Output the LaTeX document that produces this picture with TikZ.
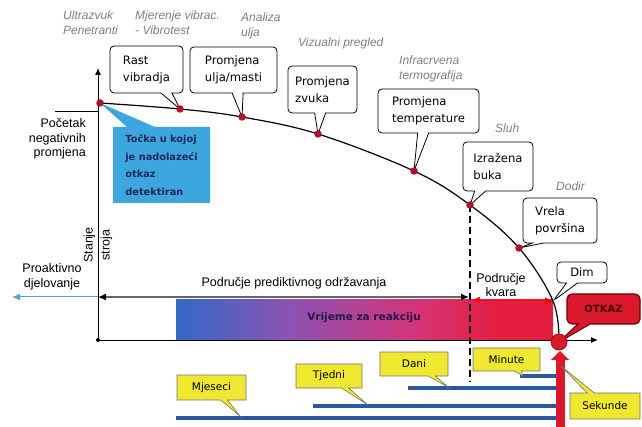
\documentclass[tikz,border=0pt]{standalone}
\usepackage{fontspec}
\setmainfont{Liberation Sans}
\newfontfamily\callfont{DejaVu Sans}
\usetikzlibrary{shapes.callouts,arrows.meta}
\definecolor{dotred}{RGB}{176,16,48}
\definecolor{boxblue}{RGB}{62,166,222}
\definecolor{boxtext}{RGB}{28,40,92}
\definecolor{barblue}{RGB}{52,104,196}
\definecolor{barpurple}{RGB}{140,82,180}
\definecolor{barpink}{RGB}{212,52,120}
\definecolor{barred}{RGB}{228,30,62}
\definecolor{linkblue}{RGB}{90,160,215}
\definecolor{notered}{RGB}{218,26,44}
\definecolor{noteyellow}{RGB}{240,232,48}
\definecolor{timeblue}{RGB}{44,88,158}
\definecolor{reacttext}{RGB}{40,24,70}
\pgfdeclarehorizontalshading{reaction}{100bp}{color(0bp)=(barblue); color(25bp)=(barblue); color(40bp)=(barpurple); color(57bp)=(barpink); color(68bp)=(barred); color(75bp)=(barred); color(100bp)=(barred)}
\begin{document}
\begin{tikzpicture}[x=1pt, y=-1pt,
  remark/.style={rectangle callout, draw, fill=white, rounded corners=4pt, line width=0.8pt, align=left, inner sep=0pt, callout pointer width=11pt, font=\callfont\fontsize{11.6}{17}\selectfont},
  tagbox/.style={rectangle callout, draw=black!55, fill=noteyellow, line width=0.6pt, inner sep=0pt, callout pointer width=7pt, font=\callfont\fontsize{10.5}{12}\selectfont},
  method/.style={align=left, anchor=west, inner sep=0pt, text=black!50, font=\itshape\fontsize{12}{15}\selectfont},
  plain/.style={inner sep=0pt, font=\fontsize{12.5}{14.5}\selectfont},
  dot/.style={circle, fill=dotred, inner sep=0pt, minimum size=7.5pt},
  timebar/.style={timeblue, line width=3.5pt}]
\useasboundingbox (0,0) rectangle (642,427);
\fill[white] (0,0) rectangle (642,427);

\coordinate (O) at (98,340);
\coordinate (ytip) at (98,68);
\coordinate (xtip) at (598,340);
\coordinate (s0) at (55,112);
\coordinate (s1) at (98,112);
\coordinate (p1) at (98,297);
\coordinate (p2) at (469,297);
\coordinate (pa) at (12,297);
\coordinate (k1) at (472,300);
\coordinate (dashend) at (470,382);
\coordinate (rbase) at (560,432);
\coordinate (rtip) at (560,351);
\coordinate (d0) at (100,103);
\coordinate (d1) at (180,109);
\coordinate (d2) at (242,117);
\coordinate (d3) at (318,134);
\coordinate (d4) at (414,171);
\coordinate (d5) at (470,205);
\coordinate (d6) at (519,248);
\coordinate (d7) at (553,301);
\coordinate (fail) at (559,342);

\shade[shading=reaction] (176,300) rectangle (553,340);
\node[font=\callfont\bfseries\fontsize{10.5}{12}\selectfont, text=reacttext] (react) at (364,318) {Vrijeme za reakciju};

\draw[timebar] (520,376) -- (558,376);
\draw[timebar] (408,388) -- (558,388);
\draw[timebar] (313,406) -- (558,406);
\draw[timebar] (176,418) -- (558,418);

\draw[line width=1pt] (s0) -- (s1);
\draw[line width=1pt, -{Latex[length=7pt, width=6pt]}] (O) -- (ytip);
\draw[line width=1pt, -{Latex[length=7pt, width=6pt]}] (O) -- (xtip);
\fill (O) circle (2);
\draw[linkblue, line width=1pt, -{Latex[length=8pt, width=7pt]}] (p1) -- (pa);
\draw[black!60, line width=1.2pt, {Latex[black, length=8pt, width=7pt]}-{Latex[black, length=8pt, width=7pt]}] (p1) -- (p2);
\draw[red, line width=0.7pt, {Latex[length=8pt, width=7pt]}-{Latex[length=8pt, width=7pt]}] (k1) -- (d7);
\draw[line width=2.2pt, dash pattern=on 7pt off 4pt] (d5) -- (dashend);
\draw[line width=1.2pt] plot[smooth, tension=0.6] coordinates {(d0) (d1) (d2) (d3) (d4) (d5) (d6) (d7) (fail)};

\node[rectangle callout, fill=boxblue, minimum width=97pt, minimum height=76pt, inner sep=0pt, callout absolute pointer={(d0)}, callout pointer width=28pt, align=left, text=boxtext, font=\callfont\bfseries\fontsize{9.8}{17.5}\selectfont] (detect) at (161.5,165) {Točka u kojoj\\je nadolazeći\\otkaz\\detektiran};

\node[remark, minimum width=73pt, minimum height=47pt, callout absolute pointer={(d1)}] (rast) at (146.5,69.5) {Rast\\vibradja};
\node[remark, minimum width=87pt, minimum height=46pt, callout absolute pointer={(d2)}] (ulje) at (233.5,70) {Promjena\\ulja/masti};
\node[remark, minimum width=69pt, minimum height=47pt, callout absolute pointer={(d3)}] (zvuk) at (322.5,89.5) {Promjena\\zvuka};
\node[remark, minimum width=101pt, minimum height=44pt, callout absolute pointer={(d4)}] (temp) at (428.5,111) {Promjena\\temperature};
\node[remark, minimum width=70pt, minimum height=49pt, callout absolute pointer={(d5)}] (buka) at (498,166.5) {Izražena\\buka};
\node[remark, minimum width=74pt, minimum height=45pt, callout absolute pointer={(d6)}] (vrela) at (560,220.5) {Vrela\\površina};
\node[remark, minimum width=50pt, minimum height=21pt, callout absolute pointer={(d7)}] (dim) at (582,272.5) {Dim};

\foreach \d in {d0,d1,d2,d3,d4,d5,d6}
  \node[dot] at (\d) {};

\node[rectangle callout, fill=notered, draw=black!55!red, line width=1.2pt, rounded corners=5pt, minimum width=73pt, minimum height=30pt, inner sep=0pt, callout absolute pointer={(fail)}, callout pointer width=12pt, text=black!75!red, font=\callfont\bfseries\fontsize{10}{12}\selectfont] (otkaz) at (603.5,309) {OTKAZ};
\draw[notered, line width=9pt, -{Triangle[length=9pt, width=18pt]}] (rbase) -- (rtip);
\node[circle, fill=notered, draw=black!30!red, line width=0.8pt, minimum size=16pt, inner sep=0pt] (faildot) at (fail) {};

\node[tagbox, minimum width=69pt, minimum height=25pt, callout absolute pointer={(240,416)}] (mjeseci) at (211.5,387.5) {Mjeseci};
\node[tagbox, minimum width=66pt, minimum height=24pt, callout absolute pointer={(368,405)}] (tjedni) at (329,376) {Tjedni};
\node[tagbox, minimum width=68pt, minimum height=24pt, callout absolute pointer={(448,387)}] (dani) at (414,364) {Dani};
\node[tagbox, minimum width=67pt, minimum height=23pt, callout absolute pointer={(523,376)}] (minute) at (506.5,359.5) {Minute};
\node[tagbox, minimum width=70pt, minimum height=26pt, callout absolute pointer={(561,366)}] (sekunde) at (605,406) {Sekunde};

\node[method] (ultra) at (63,22.5) {Ultrazvuk\\Penetranti};
\node[method] (vibro) at (135,22.5) {Mjerenje vibrac.\\- Vibrotest};
\node[method] (analiza) at (241,25.5) {Analiza\\ulja};
\node[method] (vizual) at (298,43) {Vizualni pregled};
\node[method] (infra) at (399,68.5) {Infracrvena\\termografija};
\node[method] (sluh) at (495,128) {Sluh};
\node[method] (dodir) at (556,186) {Dodir};

\node[plain, align=right, anchor=east] (pocetak) at (86,139) {Početak\\negativnih\\promjena};
\node[plain, align=center, rotate=90, font=\fontsize{12.5}{17}\selectfont] (stanje) at (98,245) {Stanje\\stroja};
\node[plain, align=center] (proakt) at (52,277) {Proaktivno\\djelovanje};
\node[plain] (predikt) at (294,283) {Područje prediktivnog održavanja};
\node[plain, align=center] (kvar) at (501,285) {Područje\\kvara};
\end{tikzpicture}
\end{document}
